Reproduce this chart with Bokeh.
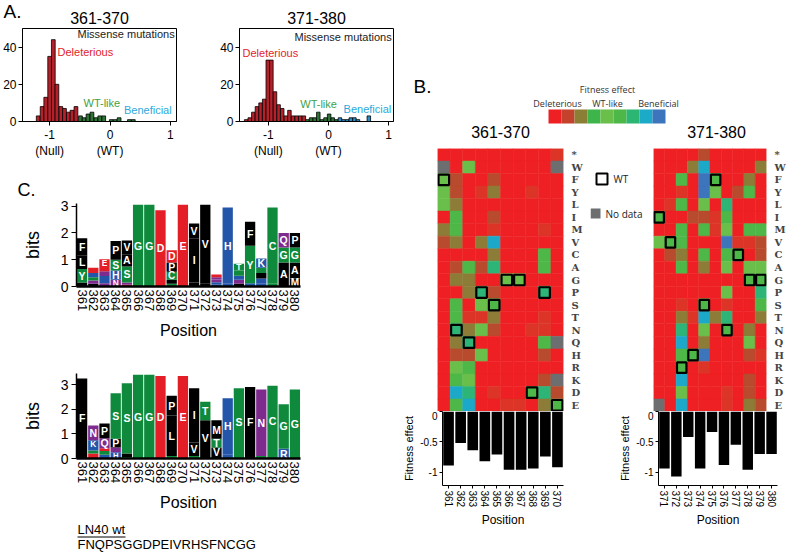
from bokeh.plotting import figure
from bokeh.layouts import row, column
from bokeh.models import Range1d, FactorRange, FixedTicker, Label, ColumnDataSource
from bokeh.embed import file_html
from bokeh.resources import INLINE
from bokeh.core.properties import value

SANS = "Liberation Sans"

# ---------------- Panel A : histograms ----------------
hist_titles = ["361-370", "371-380"]
hist1_x = [-1.19, -1.125, -1.065, -1.0, -0.94, -0.88, -0.815, -0.755, -0.69, -0.63, -0.565,
           -0.49, -0.43, -0.365, -0.30, -0.235, -0.17, -0.105, 0.02, 0.085, 0.15, 0.32, 0.385]
hist1_n = [3, 8, 13, 35, 44, 20, 8, 7, 5, 6, 8,
           3, 2, 4, 5, 2, 3, 3, 1, 1, 2, 1, 1]
hist1_cls = ["del", "del", "del", "del", "del", "del", "del", "del", "del", "del", "del",
             "wt", "wt", "wt", "wt", "wt", "wt", "wt", "wt", "wt", "wt", "wt", "wt"]
hist2_x = [-1.37, -1.31, -1.25, -1.19, -1.13, -1.07, -1.01, -0.95, -0.89, -0.83, -0.77, -0.71,
           -0.65, -0.59, -0.53, -0.47, -0.41, -0.35, -0.29, -0.23, -0.17, -0.11, -0.05, 0.01,
           0.07, 0.13, 0.19, 0.25, 0.31, 0.37, 0.43, 0.49, 0.67]
hist2_n = [1, 2, 5, 8, 10, 12, 33, 33, 16, 9, 7, 3,
           6, 3, 3, 3, 3, 1, 2, 2, 5, 1, 2, 4,
           2, 1, 2, 1, 1, 2, 2, 1, 3]
hist2_cls = ["del", "del", "del", "del", "del", "del", "del", "del", "del", "del", "del", "del",
             "del", "del", "del", "del", "del", "wt", "wt", "wt", "wt", "wt", "wt", "wt",
             "wt", "wt", "ben", "ben", "ben", "ben", "ben", "ben", "ben"]
hist_colors = {"del": "#B5212B", "wt": "#2E7436", "ben": "#2A8CC4"}
hist_tick_labels = {-1: "-1\n(Null)", 0: "0\n(WT)", 1: "1"}
class_labels = ["Deleterious", "WT-like", "Beneficial"]
class_label_colors = ["#E3232B", "#3E9F47", "#2BA9DC"]

# ---------------- Panel B : heatmaps ----------------
pos_a = ["361", "362", "363", "364", "365", "366", "367", "368", "369", "370"]
pos_b = ["371", "372", "373", "374", "375", "376", "377", "378", "379", "380"]
wt_a = "FNQPSGGDPE"
wt_b = "IVRHSFNCGG"
aa_rows = ["*", "W", "F", "Y", "L", "I", "M", "V", "C", "A", "G",
           "P", "S", "T", "N", "Q", "H", "R", "K", "D", "E"]
heat_a = ["0000000001", "x05000000x", "5200200000", "5201300100", "5300000000",
          "0400200000", "3400100010", "2303700000", "0000300040", "0242600040",
          "0330055000", "0036200060", "0405400000", "0411300010", "0635200110",
          "036000004x", "0225000020", "0540000000", "045000002x", "0760100462",
          "0470011034"]
heat_b = ["0000200000", "0003700003", "0040840030", "0010850240", "0140506000",
          "4002214000", "0040415044", "5440008112", "0230404402", "0040305055",
          "0000000044", "0000005006", "0010401004", "0031736003", "0060504030",
          "0070300050", "0044800021", "0040100000", "0070000020", "0050001020",
          "x070001032"]
heat_colors = {"0": "#EE2024", "1": "#DC3527", "2": "#B84B2D", "3": "#8C7C37",
               "4": "#4DB748", "5": "#6ABF4B", "6": "#2DB577", "7": "#1CA9C9",
               "8": "#3C75BC", "x": "#6D6E70"}
cbar_levels = [0, 1, 2, 3, 4, 5, 6, 7, 8]
cbar_palette = ["#EE2024", "#C4412B", "#8A7F35", "#3DB54A", "#6ABF4B",
                "#4DB748", "#2BB673", "#1BAAC8", "#3C75BC"]
bar_a = [-0.89, -0.52, -0.64, -0.82, -0.71, -0.96, -0.96, -0.94, -0.74, -0.92]
bar_b = [-0.94, -1.07, -0.42, -0.94, -0.34, -0.88, -0.55, -0.96, -0.70, -0.70]
marked_pos = ["365", "366", "367", "368", "370", "371"]

# ---------------- Panel C : sequence logos ----------------
logo_pos = [361, 362, 363, 364, 365, 366, 367, 368, 369, 370,
            371, 372, 373, 374, 375, 376, 377, 378, 379, 380]
logo1_letters = ["MYLF", "AQSKE", "NKRQDE", "NHSP", "ENSAV", "G", "G", "D", "SACPD", "E",
                 "LIV", "LV", "RKQNE", "KH", "ANHST", "HYF", "RHAYK", "SC", "AGQ", "MAGP"]
logo1_heights = [[0.15, 0.5, 0.5, 0.65], [0.1, 0.12, 0.13, 0.15, 0.2],
                 [0.12, 0.12, 0.15, 0.18, 0.2, 0.25], [0.25, 0.35, 0.4, 0.7],
                 [0.07, 0.08, 0.6, 0.45, 0.52], [3.05], [3.05], [2.85],
                 [0.1, 0.15, 0.3, 0.35, 0.45], [3.05],
                 [0.15, 1.65, 0.55], [0.1, 2.95], [0.08, 0.08, 0.1, 0.09, 0.1],
                 [0.1, 2.85], [0.1, 0.15, 0.15, 0.2, 0.25], [0.12, 1.4, 0.9],
                 [0.12, 0.18, 0.2, 0.2, 0.35], [0.1, 2.85], [0.9, 0.56, 0.54],
                 [0.3, 0.6, 0.56, 0.54]]
logo2_letters = ["F", "DESRKN", "HSEQP", "HNPS", "TAS", "G", "G", "D", "SLP", "E",
                 "TVI", "IVT", "IVTM", "RH", "TS", "LF", "SN", "SC", "RG", "G"]
logo2_heights = [[3.25], [0.1, 0.1, 0.12, 0.15, 0.27, 0.6], [0.15, 0.15, 0.12, 0.4, 0.6],
                 [0.25, 0.2, 0.35, 1.85], [0.06, 0.14, 2.85], [3.4], [3.4], [3.35],
                 [0.1, 1.65, 0.8], [3.35],
                 [0.1, 0.55, 2.2], [0.1, 1.45, 0.75], [0.1, 0.35, 0.35, 0.75],
                 [0.15, 2.3], [0.1, 2.75], [0.1, 2.8], [0.1, 2.7], [0.1, 2.85],
                 [0.4, 1.8], [2.8]]
aa_group_color = {"black": "AVLIPWFM", "green": "GSTYC", "purple": "NQ", "blue": "KRH", "red": "DE"}
group_hex = {"black": "#000000", "green": "#0F8A3D", "purple": "#7E2B8E",
             "blue": "#2356A8", "red": "#E31E26"}
ln40_title = "LN40 wt"
ln40_seq = "FNQPSGGDPEIVRHSFNCGG"


def aa_color(a):
    for g, s in aa_group_color.items():
        if a in s:
            return group_hex[g]
    return "#000000"


def base_fig(**kw):
    p = figure(output_backend="svg", toolbar_location=None, **kw)
    p.xgrid.visible = False
    p.ygrid.visible = False
    return p


def text_fig(w, h):
    """Figure whose frame fills the whole canvas, in pixel units (y down)."""
    p = base_fig(width=w, height=h, x_range=Range1d(0, w), y_range=Range1d(h, 0),
                 x_axis_location=None, y_axis_location=None, title=None,
                 min_border_left=0, min_border_right=0, min_border_top=0, min_border_bottom=0)
    p.outline_line_color = None
    return p


def style_axis(ax, size="12px"):
    ax.major_label_text_font = SANS
    ax.major_label_text_font_size = size
    ax.major_label_text_color = "black"
    ax.axis_label_text_font = SANS
    ax.axis_label_text_font_style = "normal"
    ax.axis_label_text_color = "black"
    ax.minor_tick_line_color = None
    ax.axis_line_color = "black"
    ax.major_tick_line_color = "black"
    ax.major_tick_in = 0


# ---------- strip with panel letter A and histogram titles ----------
stripA = text_fig(400, 26)
stripA.text(x=[3], y=[11], text=["A."], text_font=value(SANS), text_font_size="19px",
            text_baseline="middle", text_color="black")
stripA.text(x=[99, 316], y=[17, 17], text=hist_titles, text_font=value(SANS),
            text_font_size="16px", text_align="center", text_baseline="middle",
            text_color="black")


# ---------- histograms ----------
def hist_fig(xs, ns, cls, binw, xr, w, lb, rb, lab_pos):
    p = base_fig(width=w, height=139, x_range=Range1d(*xr), y_range=Range1d(0, 50),
                 min_border_left=lb, min_border_right=rb, min_border_top=2,
                 min_border_bottom=44, title=None)
    p.outline_line_color = "black"
    src = ColumnDataSource(dict(x=xs, n=ns, c=[hist_colors[k] for k in cls]))
    p.vbar(x="x", top="n", bottom=0, width=binw, fill_color="c", line_color="black",
           line_width=0.8, source=src)
    p.xaxis.ticker = FixedTicker(ticks=[-1, 0, 1])
    p.xaxis.major_label_overrides = hist_tick_labels
    p.yaxis.ticker = FixedTicker(ticks=[0, 20, 40])
    for ax in (p.xaxis[0], p.yaxis[0]):
        style_axis(ax, "12px")
        ax.major_tick_out = 4
        ax.major_label_standoff = 2
    p.add_layout(Label(x=xr[1] - 0.03, y=lab_pos[0], text="Missense mutations", text_align="right",
                       text_baseline="middle", text_font=SANS, text_font_size="11px",
                       text_color="#222222"))
    for (lx, ly), t, c in zip(lab_pos[1:], class_labels, class_label_colors):
        p.add_layout(Label(x=lx, y=ly, text=t, text_baseline="middle", text_font=SANS,
                           text_font_size="11px", text_color=c))
    return p


h1 = hist_fig(hist1_x, hist1_n, hist1_cls, 0.062, (-1.45, 1.1), 200, 22, 24,
              [46.8, (-0.87, 37.5), (-0.44, 9.7), (0.23, 6.4)])
h2 = hist_fig(hist2_x, hist2_n, hist2_cls, 0.058, (-1.48, 1.08), 200, 39, 7,
              [45.5, (-1.43, 37.0), (-0.47, 9.4), (0.25, 6.8)])

# ---------- strip with panel letter C ----------
stripC = text_fig(400, 34)
stripC.text(x=[17], y=[24], text=["C."], text_font=value(SANS), text_font_size="18px",
            text_baseline="middle", text_color="black")


# ---------- logos ----------
def logo_fig(letters, heights, ymax, h, top, bottom):
    p = base_fig(width=400, height=h, x_range=Range1d(360.5, 380.5), y_range=Range1d(0, ymax),
                 min_border_left=76, min_border_right=100, min_border_top=top,
                 min_border_bottom=bottom, title=None)
    p.outline_line_color = None
    ppb = (h - top - bottom) / ymax
    xs, bots, tops, cols = [], [], [], []
    tx, ty, tt, tf = [], [], [], []
    for pos, ls, hs in zip(logo_pos, letters, heights):
        b = 0.0
        for L, hh in zip(ls, hs):
            xs.append(pos); bots.append(b); tops.append(b + hh); cols.append(aa_color(L))
            hp = hh * ppb
            if hp >= 6:
                tx.append(pos); ty.append(b + hh / 2); tt.append(L)
                tf.append("%.1fpx" % min(10.5, hp / 0.8))
            b += hh
    p.vbar(x=xs, bottom=bots, top=tops, width=0.92, fill_color=cols, line_color=None)
    tsrc = ColumnDataSource(dict(x=tx, y=ty, t=tt, fs=tf))
    p.text(x="x", y="y", text="t", text_font_size="fs", source=tsrc, text_color="white",
           text_align="center", text_baseline="middle", text_font=value(SANS),
           text_font_style="bold")
    p.xaxis.ticker = FixedTicker(ticks=logo_pos)
    p.xaxis.major_label_orientation = "vertical"
    p.yaxis.ticker = FixedTicker(ticks=[0, 1, 2, 3])
    style_axis(p.xaxis[0], "13px")
    style_axis(p.yaxis[0], "14px")
    p.xaxis.axis_line_width = 2.5
    p.xaxis.major_tick_out = 0
    p.xaxis.major_label_standoff = 3
    p.xaxis.axis_label = "Position"
    p.xaxis.axis_label_text_font_size = "16px"
    p.xaxis.axis_label_standoff = 8
    p.yaxis.major_tick_out = 5
    p.yaxis.axis_line_width = 1.5
    p.yaxis.major_label_standoff = 3
    p.yaxis.axis_label = "bits"
    p.yaxis.axis_label_text_font_size = "18px"
    p.yaxis.axis_label_standoff = 15
    return p


lg1 = logo_fig(logo1_letters, logo1_heights, 3.1, 146, 4, 59)
lg2 = logo_fig(logo2_letters, logo2_heights, 3.45, 175, 28, 62)

lnf = text_fig(400, 32)
lnf.text(x=[77, 77], y=[9, 24], text=[ln40_title, ln40_seq], text_font=value(SANS),
         text_font_size="13px", text_baseline="middle", text_color="black")
lnf.segment(x0=[77], y0=[16.5], x1=[125], y1=[16.5], line_color="black", line_width=1)

# ---------- panel B top: letter, colour scale and heatmap titles ----------
CB_LEFT, CB_CELL = 548, 13          # pixel placement of the colour-scale legend
TB_W, TB_H = 388, 140


def lv(px):
    return (px - CB_LEFT) / CB_CELL - 0.5


tb = base_fig(width=TB_W, height=TB_H, x_range=Range1d(lv(400), lv(400 + TB_W)),
              y_range=Range1d(TB_H, 0), x_axis_location=None, y_axis_location=None, title=None,
              min_border_left=0, min_border_right=0, min_border_top=0, min_border_bottom=0)
tb.outline_line_color = None
tb.rect(x=cbar_levels, y=116, width=1, height=14, fill_color=cbar_palette, line_color=None)
tb.text(x=[lv(607)], y=[89], text=["Fitness effect"], text_font=value("Open Sans"),
        text_font_size="9px", text_align="center", text_baseline="middle", text_color="#333333")
tb.text(x=[lv(557), lv(607), lv(658)], y=[103, 103, 103], text=class_labels,
        text_font=value("Open Sans"), text_font_size="9px", text_align="center",
        text_baseline="middle", text_color="#333333")
tb.text(x=[lv(413)], y=[86], text=["B."], text_font=value(SANS), text_font_size="19px",
        text_baseline="middle", text_color="black")
tb.text(x=[lv(500), lv(716)], y=[131, 131], text=hist_titles, text_font=value(SANS),
        text_font_size="16px", text_align="center", text_baseline="middle", text_color="black")


# ---------- heatmaps ----------
def heat_fig(pos, codes, wt, w, lb, rb):
    p = base_fig(width=w, height=271, x_range=FactorRange(*pos),
                 y_range=FactorRange(*reversed(aa_rows)), x_axis_location=None,
                 y_axis_location="right", min_border_left=lb, min_border_right=rb,
                 min_border_top=8, min_border_bottom=0, title=None)
    p.outline_line_color = None
    xs, ys, cs = [], [], []
    for r, aa in enumerate(aa_rows):
        for c, ps in enumerate(pos):
            xs.append(ps); ys.append(aa); cs.append(heat_colors[codes[r][c]])
    p.rect(x=xs, y=ys, width=1, height=1, fill_color=cs, line_color=cs, line_width=0.5)
    p.rect(x=pos, y=list(wt), width=0.84, height=0.84, fill_color=None, line_color="black",
           line_width=2.2)
    ax = p.yaxis[0]
    ax.axis_line_color = None
    ax.major_tick_line_color = None
    ax.minor_tick_line_color = None
    ax.major_label_text_font = "DejaVu Serif"
    ax.major_label_text_font_style = "bold"
    ax.major_label_text_font_size = "10px"
    ax.major_label_standoff = 2
    return p


hm_a = heat_fig(pos_a, heat_a, wt_a, 190, 37, 27)
hm_b = heat_fig(pos_b, heat_b, wt_b, 138, 3, 11)

# legend for WT boxes / missing data (pixel units, frame starts 8px below the row top)
leg = base_fig(width=60, height=271, x_range=Range1d(0, 60), y_range=Range1d(263, 0),
               x_axis_location=None, y_axis_location=None, title=None,
               min_border_left=0, min_border_right=0, min_border_top=8, min_border_bottom=0)
leg.outline_line_color = None
leg.rect(x=[11.5], y=[30.5], width=11, height=11, fill_color=None, line_color="black", line_width=2)
leg.rect(x=[5], y=[65], width=10, height=10, fill_color="#6D6E70", line_color=None)
leg.text(x=[23, 15], y=[30.5, 65], text=["WT", "No data"], text_font=value("Open Sans"),
         text_font_size="10px", text_baseline="middle", text_color="#222222")


# ---------- fitness bars ----------
def bar_fig(pos, vals, w, lb, rb):
    p = base_fig(width=w, height=141, x_range=FactorRange(*pos), y_range=Range1d(-1.22, 0),
                 min_border_left=lb, min_border_right=rb, min_border_top=0,
                 min_border_bottom=67, title=None)
    p.outline_line_color = None
    p.vbar(x=pos, top=0, bottom=vals, width=0.88, fill_color="black", line_color=None)
    p.yaxis.ticker = FixedTicker(ticks=[-1, -0.5, 0])
    p.yaxis.major_label_overrides = {-1: "-1", -0.5: "-0.5", 0: "0"}
    style_axis(p.xaxis[0], "10px")
    style_axis(p.yaxis[0], "10px")
    p.yaxis.major_tick_out = 3
    p.yaxis.major_label_standoff = 2
    p.yaxis.axis_label = "Fitness effect"
    p.yaxis.axis_label_text_font_size = "11px"
    p.yaxis.axis_label_standoff = 2
    p.xaxis.major_tick_out = 3
    p.xaxis.major_label_standoff = 2
    p.xaxis.major_label_orientation = "vertical"
    p.xaxis.major_label_overrides = {k: "\u25cf" + k for k in marked_pos if k in pos}
    p.xaxis.axis_label = "Position"
    p.xaxis.axis_label_text_font_size = "12px"
    p.xaxis.axis_label_standoff = 3
    return p


bf_a = bar_fig(pos_a, bar_a, 216, 37, 53)
bf_b = bar_fig(pos_b, bar_b, 172, 37, 11)

# each block wrapped in its own row so that plot frames are not aligned across the column
left_col = column(row(stripA), row(h1, h2), row(stripC), row(lg1), row(lg2), row(lnf))
right_col = column(row(tb), row(hm_a, leg, hm_b), row(bf_a, bf_b))
root = row(left_col, right_col)

open("out.html", "w").write(file_html(root, INLINE))
